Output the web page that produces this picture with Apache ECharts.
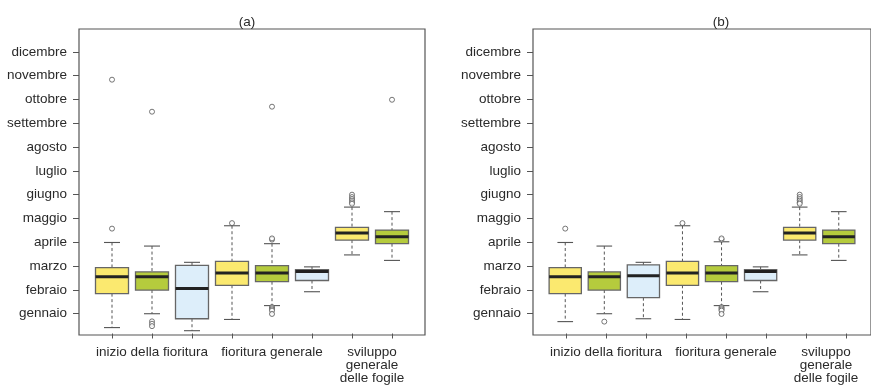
<!DOCTYPE html>
<html>
<head>
<meta charset="utf-8">
<script src="https://cdn.jsdelivr.net/npm/echarts@6/dist/echarts.min.js"></script>
<style>
html,body{margin:0;padding:0;background:#fff;}
#chart{width:871px;height:385px;}
</style>
</head>
<body>
<div id="chart"></div>
<script>
// ---- data ----
const panelTitles = ['(a)', '(b)'];
const monthLabels = ['gennaio','febraio','marzo','aprile','maggio','giugno','luglio','agosto','settembre','ottobre','novembre','dicembre'];
const groupLabels = ['inizio della fioritura', 'fioritura generale', 'sviluppo\ngenerale\ndelle fogile'];
const groupCenters = [2, 5, 7.5];
const boxNames = ['1','2','3','4','5','6','7','8'];
// [low whisker, Q1, median, Q3, high whisker] in month units (gennaio = 1)
const statsA = [
  [0.46, 1.88, 2.59, 2.97, 4.02],
  [1.04, 2.03, 2.59, 2.79, 3.87],
  [0.33, 0.83, 2.10, 3.06, 3.19],
  [0.80, 2.23, 2.74, 3.23, 4.72],
  [1.38, 2.38, 2.74, 3.05, 3.97],
  [1.96, 2.43, 2.81, 2.88, 3.00],
  [3.50, 4.12, 4.42, 4.65, 5.50],
  [3.27, 3.97, 4.26, 4.54, 5.31]
];
const statsB = [
  [0.71, 1.88, 2.59, 2.97, 4.02],
  [1.04, 2.03, 2.59, 2.79, 3.87],
  [0.83, 1.71, 2.63, 3.08, 3.19],
  [0.80, 2.23, 2.74, 3.23, 4.72],
  [1.38, 2.38, 2.74, 3.05, 4.05],
  [1.96, 2.43, 2.81, 2.88, 3.00],
  [3.50, 4.12, 4.42, 4.65, 5.50],
  [3.27, 3.97, 4.26, 4.54, 5.31]
];
// outliers: [box number, value]
const outliersA = [
  [1, 4.60], [1, 10.83],
  [2, 0.72], [2, 0.62], [2, 0.52], [2, 9.49],
  [4, 4.83],
  [5, 4.14], [5, 4.19], [5, 1.32], [5, 1.27], [5, 1.22], [5, 1.17], [5, 1.03], [5, 9.70],
  [7, 6.02], [7, 5.92], [7, 5.84], [7, 5.77], [7, 5.70], [7, 5.64],
  [8, 9.99]
];
const outliersB = [
  [1, 4.60],
  [2, 0.71],
  [4, 4.83],
  [5, 4.14], [5, 4.19], [5, 1.32], [5, 1.27], [5, 1.22], [5, 1.17], [5, 1.03],
  [7, 6.02], [7, 5.92], [7, 5.84], [7, 5.77], [7, 5.70], [7, 5.64]
];

// ---- style ----
const boxColors = ['#FBE96F', '#B5CB3D', '#DDEEFA'];
const FONT = 'Liberation Sans, Arial, Helvetica, sans-serif';
const TEXT = '#2a2a2a';
const LINE = '#555';
const BOX_W = 0.825, CAP_W = 0.4;
const YMIN = 0.15, YMAX = 12.95;
const XMIN = 0.175, XMAX = 8.825;

const panels = [
  {frameLeft: 79, stats: statsA, outliers: outliersA, titleX: 247},
  {frameLeft: 533, stats: statsB, outliers: outliersB, titleX: 721}
];

function renderBox(params, api) {
  const x = api.value(0);
  const lo = api.value(1), q1 = api.value(2), md = api.value(3), q3 = api.value(4), hi = api.value(5);
  const pHi = api.coord([x, hi]), pQ3 = api.coord([x, q3]), pQ1 = api.coord([x, q1]);
  const pLo = api.coord([x, lo]), pMd = api.coord([x, md]);
  const half = api.size([BOX_W, 0])[0] / 2;
  const capHalf = api.size([CAP_W, 0])[0] / 2;
  const cx = pMd[0];
  const color = boxColors[params.dataIndex % 3];
  const dash = {stroke: '#555', lineWidth: 1, lineDash: [3, 2.5]};
  const solid = {stroke: '#555', lineWidth: 1.1};
  return {
    type: 'group',
    children: [
      {type: 'line', shape: {x1: cx, y1: pHi[1], x2: cx, y2: pQ3[1]}, style: dash},
      {type: 'line', shape: {x1: cx, y1: pQ1[1], x2: cx, y2: pLo[1]}, style: dash},
      {type: 'line', shape: {x1: cx - capHalf, y1: pHi[1], x2: cx + capHalf, y2: pHi[1]}, style: solid},
      {type: 'line', shape: {x1: cx - capHalf, y1: pLo[1], x2: cx + capHalf, y2: pLo[1]}, style: solid},
      {type: 'rect', shape: {x: cx - half, y: pQ3[1], width: 2 * half, height: pQ1[1] - pQ3[1]},
        style: {fill: color, stroke: '#666', lineWidth: 1.3}},
      {type: 'line', shape: {x1: cx - half, y1: pMd[1], x2: cx + half, y2: pMd[1]},
        style: {stroke: '#222', lineWidth: 3}}
    ]
  };
}

const option = {
  backgroundColor: '#fff',
  animation: false,
  title: [], grid: [], xAxis: [], yAxis: [], series: []
};

panels.forEach((p, k) => {
  const gFrame = option.grid.length;
  option.grid.push({left: p.frameLeft, top: 29, width: 346, height: 306, show: true,
    borderColor: LINE, borderWidth: 1.2, backgroundColor: 'transparent', containLabel: false});
  const gLab = option.grid.length;
  option.grid.push({left: p.frameLeft + 13, top: 40, width: 320, height: 287, containLabel: false});

  option.title.push({text: panelTitles[k], left: p.titleX, top: 15, padding: 0,
    textAlign: 'center',
    textStyle: {fontFamily: FONT, fontSize: 13.5, fontWeight: 'normal', color: TEXT}});

  // plotting axes on frame grid
  const xPlot = option.xAxis.length;
  option.xAxis.push({gridIndex: gFrame, type: 'value', min: XMIN, max: XMAX, show: false});
  const yPlot = option.yAxis.length;
  option.yAxis.push({gridIndex: gFrame, type: 'value', min: YMIN, max: YMAX, show: false});

  // tick axis on label grid (one tick per box)
  option.xAxis.push({gridIndex: gLab, type: 'category', data: boxNames, position: 'bottom', offset: 8,
    axisLine: {show: false}, axisTick: {show: true, alignWithLabel: true, length: 5, lineStyle: {color: LINE}},
    axisLabel: {show: false}, splitLine: {show: false}});
  // group label axis
  option.xAxis.push({gridIndex: gLab, type: 'value', min: 0.5, max: 8.5, interval: 0.5, position: 'bottom', offset: 8,
    axisLine: {show: false}, axisTick: {show: false}, splitLine: {show: false},
    axisLabel: {show: true, margin: 12, color: TEXT, fontFamily: FONT, fontSize: 13.5, lineHeight: 13,
      formatter: v => { const i = groupCenters.indexOf(v); return i >= 0 ? groupLabels[i] : ''; }}});
  // month label axis
  option.yAxis.push({gridIndex: gLab, type: 'category', data: monthLabels, position: 'left', offset: 13,
    axisLine: {show: false}, axisTick: {show: true, alignWithLabel: true, length: 6, lineStyle: {color: LINE}},
    axisLabel: {margin: 12, color: TEXT, fontFamily: FONT, fontSize: 13.5, interval: 0},
    splitLine: {show: false}});

  option.series.push({
    type: 'custom', xAxisIndex: xPlot, yAxisIndex: yPlot, clip: false,
    renderItem: renderBox,
    encode: {x: 0, y: [1, 2, 3, 4, 5]},
    data: p.stats.map((s, i) => [i + 1].concat(s))
  });
  option.series.push({
    type: 'scatter', xAxisIndex: xPlot, yAxisIndex: yPlot, clip: false,
    symbol: 'circle', symbolSize: 5,
    itemStyle: {color: '#fff', borderColor: '#555', borderWidth: 1},
    data: p.outliers
  });
});

const chart = echarts.init(document.getElementById('chart'), null, {renderer: 'canvas'});
chart.setOption(option);
</script>
</body>
</html>
